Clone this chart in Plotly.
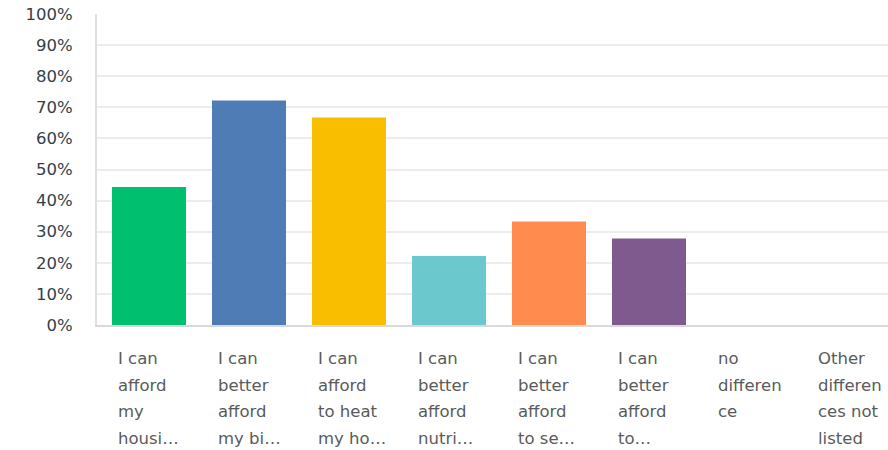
import plotly.graph_objects as go

categories = [
    "I can afford my housing",
    "I can better afford my bills",
    "I can afford to heat my home",
    "I can better afford nutritious food",
    "I can better afford to see",
    "I can better afford to",
    "no difference",
    "Other differences not listed",
]
tick_labels = [
    ["I can", "afford", "my", "housi…"],
    ["I can", "better", "afford", "my bi…"],
    ["I can", "afford", "to heat", "my ho…"],
    ["I can", "better", "afford", "nutri…"],
    ["I can", "better", "afford", "to se…"],
    ["I can", "better", "afford", "to…"],
    ["no", "differen", "ce"],
    ["Other", "differen", "ces not", "listed"],
]
values = [44.4, 72.2, 66.7, 22.2, 33.3, 27.8, 0, 0]
colors = ["#00BF6F", "#507CB6", "#F9BE00", "#6BC8CD", "#FF8B4F", "#7F5A8F", "#AC1A2F", "#DB4D5C"]
y_ticks = list(range(0, 101, 10))

x_pos = list(range(len(categories)))

fig = go.Figure(
    go.Bar(
        x=x_pos,
        y=values,
        marker=dict(color=colors, line=dict(width=0)),
        width=0.74,
        hovertext=categories,
    )
)

annotations = []
line_gap = 26.5
for i, lines in enumerate(tick_labels):
    for j, line in enumerate(lines):
        annotations.append(
            dict(
                x=i - 0.33,
                xref="x",
                y=0,
                yref="paper",
                xanchor="left",
                yanchor="middle",
                yshift=-33.5 - j * line_gap,
                text=line,
                showarrow=False,
                font=dict(family="DejaVu Sans", size=16.5, color="#5a5a5a"),
            )
        )

fig.update_layout(
    width=888,
    height=450,
    margin=dict(l=97, r=0, t=14, b=124.5),
    paper_bgcolor="white",
    plot_bgcolor="white",
    showlegend=False,
    bargap=0.26,
    annotations=annotations,
    xaxis=dict(
        range=[-0.52, 7.39],
        showticklabels=False,
        showgrid=False,
        zeroline=False,
        showline=True,
        linecolor="#d9d9d9",
        linewidth=2,
        fixedrange=True,
    ),
    yaxis=dict(
        range=[0, 100],
        tickvals=y_ticks,
        ticktext=[f"{v}%" for v in y_ticks],
        showgrid=True,
        gridcolor="#ececec",
        gridwidth=1.5,
        zeroline=False,
        showline=True,
        linecolor="#e0e0e0",
        linewidth=2,
        ticklabelstandoff=19,
        tickfont=dict(family="DejaVu Sans", size=16.5, color="#333e48"),
        fixedrange=True,
    ),
)

fig.write_html(
    "out.html",
    config={"displayModeBar": False},
    post_script="document.body.style.margin='0';document.body.style.overflow='hidden';",
)
